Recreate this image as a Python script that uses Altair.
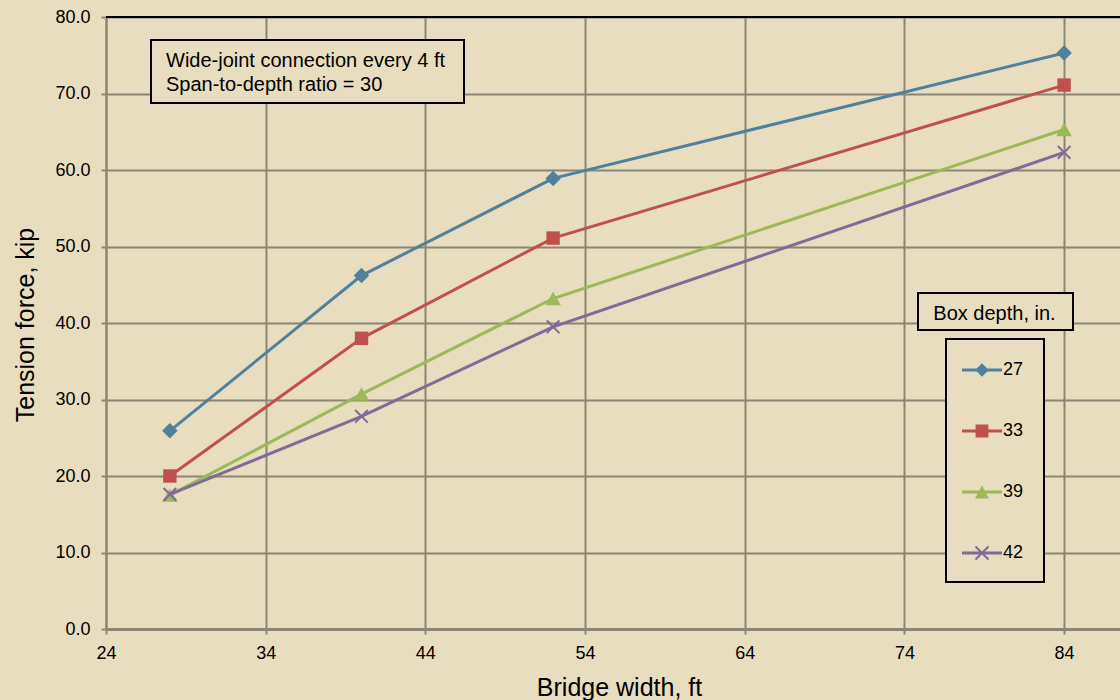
import math
import altair as alt
import pandas as pd

# ---------------- data ----------------
widths = [28, 40, 52, 84]
depths = ["27", "33", "39", "42"]
force_27 = [25.9, 46.2, 58.9, 75.3]
force_33 = [20.0, 38.0, 51.1, 71.1]
force_39 = [17.5, 30.7, 43.2, 65.3]
force_42 = [17.6, 27.8, 39.5, 62.3]
x_ticks = [24, 34, 44, 54, 64, 74, 84]
y_ticks = [0, 10, 20, 30, 40, 50, 60, 70, 80]
colors = ["#4F819E", "#C0504D", "#9BB957", "#806A99"]
note_lines = ["Wide-joint connection every 4 ft", "Span-to-depth ratio = 30"]
legend_title = "Box depth, in."
x_title = "Bridge width, ft"
y_title = "Tension force, kip"

series = {"27": force_27, "33": force_33, "39": force_39, "42": force_42}
df = pd.DataFrame(
    [{"width": w, "force": f, "depth": d} for d in depths for w, f in zip(widths, series[d])]
)

# ---------------- style ----------------
FONT = "Liberation Sans"
BG = "#E9DDBF"
GRID = "#8B8674"
PW, PH = 1014, 612

X_PATH = "M-1,-1L1,1M-1,1L1,-1"


def poly(points):
    area = 0.0
    for i in range(len(points)):
        x0, y0 = points[i]
        x1, y1 = points[(i + 1) % len(points)]
        area += x0 * y1 - x1 * y0
    if area < 0:
        points = points[::-1]
    return "M" + " L".join(f"{x:.3f} {y:.3f}" for x, y in points) + " Z "


# legend symbol: line segment + marker, unit = 11 px (symbol size 22x22)
U = 11.0
line_seg = poly([(-20 / U, -1.5 / U), (20 / U, -1.5 / U), (20 / U, 1.5 / U), (-20 / U, 1.5 / U)])
dm = 6.8 / U
diamond_p = poly([(0, -dm), (dm, 0), (0, dm), (-dm, 0)])
sq = 6.4 / U
square_p = poly([(-sq, -sq), (sq, -sq), (sq, sq), (-sq, sq)])
tw, th = 7 / U, 6.5 / U
tri_p = poly([(0, -th), (tw, th), (-tw, th)])
L, h = 6.5 * math.sqrt(2) / U, 1.0 / U
plus = [(h, -L), (h, -h), (L, -h), (L, h), (h, h), (h, L), (-h, L), (-h, h), (-L, h), (-L, -h), (-h, -h), (-h, -L)]
xcross_p = poly([((x - y) / math.sqrt(2), (x + y) / math.sqrt(2)) for x, y in plus])
legend_paths = [line_seg + diamond_p, line_seg + square_p, line_seg + tri_p, line_seg + xcross_p]

chart_shapes = [
    ("diamond", 240, True),
    ("square", 180, True),
    ("triangle-up", 240, True),
    (X_PATH, 160, False),
]

xs = alt.Scale(domain=[24, 87.5], nice=False, zero=False)
ys = alt.Scale(domain=[0, 80], nice=False, zero=False)
cs = alt.Scale(domain=depths, range=colors)

common_axis = dict(
    grid=True, gridColor=GRID, gridWidth=2,
    domainColor=GRID, tickColor=GRID, tickWidth=2, tickSize=5,
    labelFontSize=18, labelFont=FONT, labelColor="black",
    labelFlush=False, labelOverlap=False,
    titleFont=FONT, titleFontSize=25, titleFontWeight="normal", titleColor="black",
    titleBaseline="alphabetic",
)
x_axis = alt.Axis(values=x_ticks, format="d", title=x_title, domainWidth=3,
                  labelPadding=10, titleX=513, titleY=66, **common_axis)
y_axis = alt.Axis(values=y_ticks, format=".1f", title=y_title, domainWidth=2,
                  labelPadding=11, titleX=-73, titleY=307.5, **common_axis)

X = alt.X("width:Q", scale=xs, axis=x_axis)
Y = alt.Y("force:Q", scale=ys, axis=y_axis)

base = alt.Chart(df)

series_layers = []
for i, d in enumerate(depths):
    sub = base.transform_filter(alt.datum.depth == d)
    series_layers.append(sub.mark_line(color=colors[i], strokeWidth=3).encode(x=X, y=Y))
    shp, size, filled = chart_shapes[i]
    if filled:
        mk = dict(shape=shp, size=size, filled=True, fill=colors[i], strokeWidth=0, opacity=1)
    else:
        mk = dict(shape=shp, size=size, filled=False, stroke=colors[i], strokeWidth=2, opacity=1)
    series_layers.append(sub.mark_point(**mk).encode(x=X, y=Y))

top_rule = alt.Chart(pd.DataFrame({"force": [80]})).mark_rule(
    color="black", strokeWidth=2
).encode(y=Y)

one = pd.DataFrame({"k": [0]})
note_box = alt.Chart(one).mark_rect(fill=BG, stroke="black", strokeWidth=2).encode(
    x=alt.value(45), x2=alt.value(358), y=alt.value(23), y2=alt.value(86)
)
note_t1 = alt.Chart(one).mark_text(align="left", baseline="alphabetic", fontSize=20,
                                   font=FONT, color="black").encode(
    x=alt.value(60), y=alt.value(50), text=alt.value(note_lines[0]))
note_t2 = alt.Chart(one).mark_text(align="left", baseline="alphabetic", fontSize=20,
                                   font=FONT, color="black").encode(
    x=alt.value(60), y=alt.value(74), text=alt.value(note_lines[1]))

lt_box = alt.Chart(one).mark_rect(fill=BG, stroke="black", strokeWidth=2).encode(
    x=alt.value(812), x2=alt.value(967), y=alt.value(276), y2=alt.value(313)
)
lt_text = alt.Chart(one).mark_text(align="center", baseline="alphabetic", fontSize=20,
                                   font=FONT, color="black").encode(
    x=alt.value(888.5), y=alt.value(303), text=alt.value(legend_title))

leg = alt.Legend(
    title=None, orient="none", legendX=840, legendY=322, padding=20, rowPadding=41,
    fillColor=BG, strokeColor="black", symbolSize=484, symbolStrokeWidth=0,
    symbolOffset=5, symbolOpacity=1, labelFontSize=18, labelFont=FONT,
    labelColor="black", labelOffset=10,
)
legend_layer = base.mark_point(filled=True, size=0).encode(
    x=X, y=Y,
    fill=alt.Fill("depth:N", scale=cs, legend=leg),
    shape=alt.Shape("depth:N", scale=alt.Scale(domain=depths, range=legend_paths), legend=leg),
)

chart = alt.layer(
    *series_layers, top_rule, note_box, note_t1, note_t2, lt_box, lt_text, legend_layer
).properties(
    width=PW, height=PH,
    padding={"left": 106, "top": 17, "right": 0, "bottom": 71},
    autosize=alt.AutoSizeParams(type="none"),
    background=BG,
).configure_view(strokeWidth=0).configure_legend(strokeWidth=2)

chart.save("out.html", embed_options={"renderer": "svg", "actions": False})
